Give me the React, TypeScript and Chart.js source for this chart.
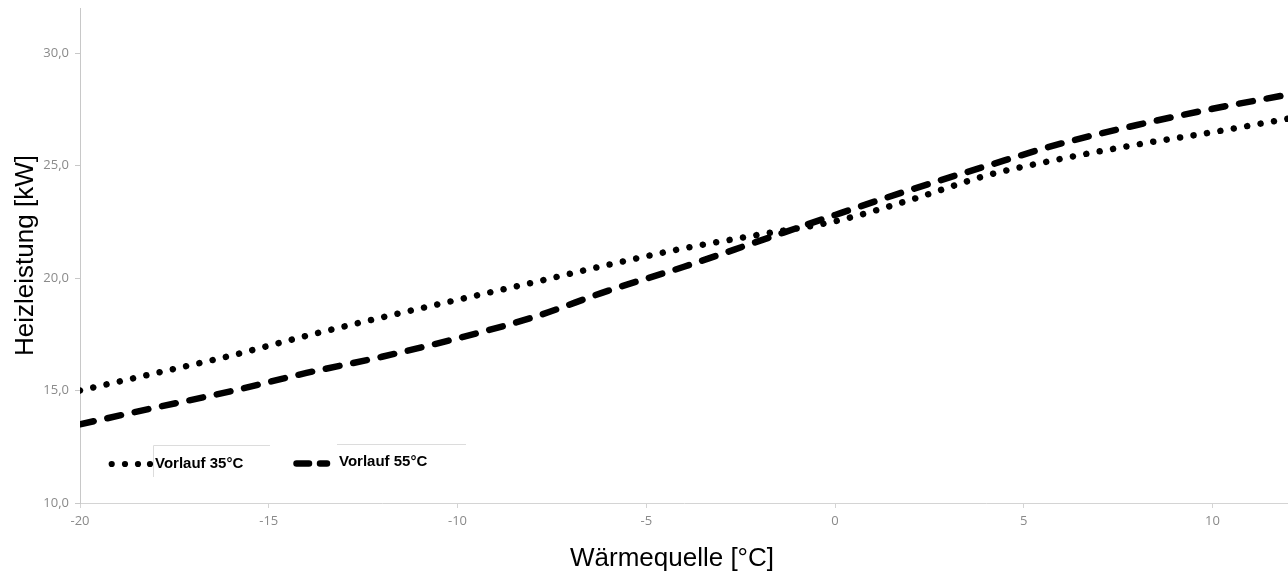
import React, { useEffect, useRef } from "react";
import { Chart, registerables } from "chart.js";

Chart.register(...registerables);

// Wärmequelle [°C]
const sourceTemps = [-20, -18, -16, -14, -12, -10, -8, -6, -4, -2, 0, 2, 4, 6, 8, 10, 12];
// Heizleistung [kW]
const vorlauf35 = [15.0, 15.77, 16.55, 17.43, 18.25, 19.03, 19.8, 20.59, 21.32, 21.93, 22.52, 23.47, 24.55, 25.3, 25.93, 26.48, 27.08];
const vorlauf55 = [13.5, 14.24, 14.97, 15.78, 16.5, 17.32, 18.25, 19.44, 20.5, 21.65, 22.8, 23.92, 24.97, 25.98, 26.8, 27.52, 28.15];
const seriesLabels = ["Vorlauf 35°C", "Vorlauf 55°C"];
const xTitle = "Wärmequelle [°C]";
const yTitle = "Heizleistung [kW]";

const overlayPlugin = {
  id: "overlay",
  afterDraw(chart: any) {
    const ctx = chart.ctx as CanvasRenderingContext2D;
    const area = chart.chartArea;
    ctx.save();
    // axis titles
    ctx.fillStyle = "#000";
    ctx.font = "26px 'Liberation Sans', Arial, sans-serif";
    ctx.textAlign = "center";
    ctx.textBaseline = "alphabetic";
    ctx.fillText(xTitle, 672, 566);
    ctx.save();
    ctx.translate(33, (area.top + area.bottom) / 2);
    ctx.rotate(-Math.PI / 2);
    ctx.fillText(yTitle, 0, 0);
    ctx.restore();

    // legend box fragments
    ctx.strokeStyle = "#dcdcdc";
    ctx.lineWidth = 1;
    ctx.beginPath();
    ctx.moveTo(153.5, 477);
    ctx.lineTo(153.5, 445.5);
    ctx.lineTo(270, 445.5);
    ctx.moveTo(337, 444.5);
    ctx.lineTo(466, 444.5);
    ctx.stroke();

    // legend sample 1: dots
    ctx.fillStyle = "#000";
    [111.7, 125, 138, 150].forEach((cx) => {
      ctx.beginPath();
      ctx.arc(cx, 464, 3.1, 0, Math.PI * 2);
      ctx.fill();
    });
    // legend sample 2: dashes
    ctx.strokeStyle = "#000";
    ctx.lineCap = "round";
    ctx.lineWidth = 6.5;
    ctx.beginPath();
    ctx.moveTo(296.5, 463.5);
    ctx.lineTo(309, 463.5);
    ctx.moveTo(320, 463.5);
    ctx.lineTo(327, 463.5);
    ctx.stroke();

    ctx.fillStyle = "#000";
    ctx.font = "bold 15px 'Liberation Sans', Arial, sans-serif";
    ctx.textAlign = "left";
    ctx.fillText(seriesLabels[0], 155, 467.5);
    ctx.fillText(seriesLabels[1], 339, 465.5);
    ctx.restore();
  },
};

export default function App() {
  const canvasRef = useRef<HTMLCanvasElement | null>(null);

  useEffect(() => {
    const canvas = canvasRef.current;
    if (!canvas) return;
    const tickFont = { family: "'Open Sans', sans-serif", size: 13 };
    const chart = new Chart(canvas, {
      type: "line",
      data: {
        datasets: [
          {
            label: seriesLabels[0],
            data: sourceTemps.map((x, i) => ({ x, y: vorlauf35[i] })),
            borderColor: "#000",
            borderWidth: 6.5,
            borderDash: [0.01, 13.6],
            borderCapStyle: "round",
            pointRadius: 0,
            cubicInterpolationMode: "monotone",
            fill: false,
          },
          {
            label: seriesLabels[1],
            data: sourceTemps.map((x, i) => ({ x, y: vorlauf55[i] })),
            borderColor: "#000",
            borderWidth: 6.5,
            borderDash: [14, 14],
            borderCapStyle: "round",
            pointRadius: 0,
            cubicInterpolationMode: "monotone",
            fill: false,
          },
        ],
      },
      options: {
        animation: false,
        responsive: false,
        devicePixelRatio: 1,
        layout: { padding: { top: 8, left: 0, right: 0, bottom: 0 } },
        plugins: { legend: { display: false }, tooltip: { enabled: false }, title: { display: false } },
        scales: {
          x: {
            type: "linear",
            min: -20,
            max: 12,
            ticks: {
              stepSize: 5,
              includeBounds: false,
              color: "#8a8a8a",
              font: tickFont,
              padding: 5,
              maxRotation: 0,
              callback: (v: any) => String(v),
            },
            grid: { display: true, drawOnChartArea: false, drawTicks: true, tickLength: 5, color: "#d4d4d4" },
            border: { display: true, color: "#d4d4d4", width: 1 },
            afterFit: (scale: any) => {
              scale.height = 72;
              scale.paddingLeft = 0;
              scale.paddingRight = 0;
            },
          },
          y: {
            type: "linear",
            min: 10,
            max: 32,
            ticks: {
              stepSize: 5,
              includeBounds: false,
              color: "#8a8a8a",
              font: tickFont,
              padding: 6,
              callback: (v: any) => Number(v).toFixed(1).replace(".", ","),
            },
            grid: { display: true, drawOnChartArea: false, drawTicks: true, tickLength: 5, color: "#c8c8c8" },
            border: { display: true, color: "#c8c8c8", width: 1 },
            afterFit: (scale: any) => {
              scale.width = 80;
              scale.paddingTop = 0;
              scale.paddingBottom = 0;
            },
          },
        },
      } as any,
      plugins: [overlayPlugin],
    });
    return () => chart.destroy();
  }, []);

  return (
    <div style={{ position: "fixed", left: 0, top: 0, width: 1288, height: 575, background: "#fff" }}>
      <canvas ref={canvasRef} width={1288} height={575} style={{ width: 1288, height: 575, display: "block" }} />
    </div>
  );
}
